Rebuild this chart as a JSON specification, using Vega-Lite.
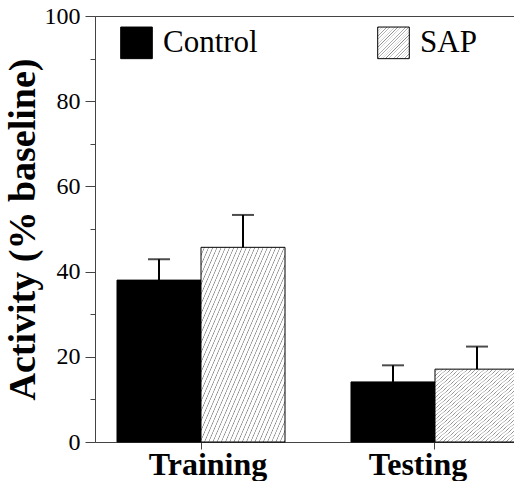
{
  "$schema": "https://vega.github.io/schema/vega-lite/v6.json",
  "width": 420,
  "height": 426,
  "autosize": {"type": "none"},
  "padding": {"left": 95, "top": 16, "right": -1, "bottom": 39},
  "background": "white",
  "config": {
    "view": {"stroke": "#444", "strokeWidth": 1},
    "font": "Liberation Serif"
  },
  "data": {
    "values": [
      {"phase": "Training", "group": "Control", "mean": 38.0, "upper": 42.9},
      {"phase": "Training", "group": "SAP", "mean": 45.7, "upper": 53.3},
      {"phase": "Testing", "group": "Control", "mean": 14.1, "upper": 18.0},
      {"phase": "Testing", "group": "SAP", "mean": 17.1, "upper": 22.4}
    ]
  },
  "resolve": {"axis": {"y": "independent"}},
  "layer": [
    {
      "mark": {"type": "bar", "stroke": "black", "strokeWidth": 1},
      "encoding": {
        "x": {
          "field": "phase", "type": "nominal", "sort": ["Training", "Testing"],
          "scale": {"range": [22, 424], "paddingInner": 0.282, "paddingOuter": 0},
          "axis": {
            "title": null, "domain": false, "labelAngle": 0,
            "tickSize": 7, "tickColor": "#444", "tickWidth": 1,
            "labelFont": "Liberation Serif", "labelFontSize": 32, "labelFontWeight": "bold",
            "labelColor": "black", "labelPadding": 0,
            "labelOffset": {"condition": {"test": "datum.value === 'Testing'", "value": -17}, "value": 7}
          }
        },
        "xOffset": {"field": "group", "type": "nominal", "sort": ["Control", "SAP"], "scale": {"paddingInner": 0, "paddingOuter": 0}},
        "y": {
          "field": "mean", "type": "quantitative",
          "scale": {"domain": [0, 100], "nice": false},
          "axis": {
            "title": "Activity (% baseline)", "values": [0, 20, 40, 60, 80, 100],
            "grid": false, "domainColor": "#444", "tickColor": "#444", "tickSize": 10,
            "labelFont": "Liberation Serif", "labelFontSize": 24, "labelColor": "black", "labelPadding": 5,
            "titleFont": "Liberation Serif", "titleFontSize": 38, "titleFontWeight": "bold", "titleColor": "black", "titlePadding": 2
          }
        },
        "fill": {
          "field": "group", "type": "nominal",
          "scale": {
            "domain": ["Control", "SAP"],
            "range": [
              "#000000",
              {"expr": "{gradient: 'linear', x1: 0, y1: 0, x2: 1, y2: 1, stops: [{offset: 0, color: '#fff'}, {offset: 0.016, color: '#fff'}, {offset: 0.021, color: '#888'}, {offset: 0.025, color: '#fff'}, {offset: 0.041, color: '#fff'}, {offset: 0.046, color: '#888'}, {offset: 0.05, color: '#fff'}, {offset: 0.066, color: '#fff'}, {offset: 0.071, color: '#888'}, {offset: 0.075, color: '#fff'}, {offset: 0.091, color: '#fff'}, {offset: 0.096, color: '#888'}, {offset: 0.1, color: '#fff'}, {offset: 0.116, color: '#fff'}, {offset: 0.121, color: '#888'}, {offset: 0.125, color: '#fff'}, {offset: 0.141, color: '#fff'}, {offset: 0.146, color: '#888'}, {offset: 0.15, color: '#fff'}, {offset: 0.166, color: '#fff'}, {offset: 0.171, color: '#888'}, {offset: 0.175, color: '#fff'}, {offset: 0.191, color: '#fff'}, {offset: 0.196, color: '#888'}, {offset: 0.2, color: '#fff'}, {offset: 0.216, color: '#fff'}, {offset: 0.221, color: '#888'}, {offset: 0.225, color: '#fff'}, {offset: 0.241, color: '#fff'}, {offset: 0.246, color: '#888'}, {offset: 0.25, color: '#fff'}, {offset: 0.266, color: '#fff'}, {offset: 0.271, color: '#888'}, {offset: 0.275, color: '#fff'}, {offset: 0.291, color: '#fff'}, {offset: 0.296, color: '#888'}, {offset: 0.3, color: '#fff'}, {offset: 0.316, color: '#fff'}, {offset: 0.321, color: '#888'}, {offset: 0.325, color: '#fff'}, {offset: 0.341, color: '#fff'}, {offset: 0.346, color: '#888'}, {offset: 0.35, color: '#fff'}, {offset: 0.366, color: '#fff'}, {offset: 0.371, color: '#888'}, {offset: 0.375, color: '#fff'}, {offset: 0.391, color: '#fff'}, {offset: 0.396, color: '#888'}, {offset: 0.4, color: '#fff'}, {offset: 0.416, color: '#fff'}, {offset: 0.421, color: '#888'}, {offset: 0.425, color: '#fff'}, {offset: 0.441, color: '#fff'}, {offset: 0.446, color: '#888'}, {offset: 0.45, color: '#fff'}, {offset: 0.466, color: '#fff'}, {offset: 0.471, color: '#888'}, {offset: 0.475, color: '#fff'}, {offset: 0.491, color: '#fff'}, {offset: 0.496, color: '#888'}, {offset: 0.5, color: '#fff'}, {offset: 0.516, color: '#fff'}, {offset: 0.521, color: '#888'}, {offset: 0.525, color: '#fff'}, {offset: 0.541, color: '#fff'}, {offset: 0.546, color: '#888'}, {offset: 0.55, color: '#fff'}, {offset: 0.566, color: '#fff'}, {offset: 0.571, color: '#888'}, {offset: 0.575, color: '#fff'}, {offset: 0.591, color: '#fff'}, {offset: 0.596, color: '#888'}, {offset: 0.6, color: '#fff'}, {offset: 0.616, color: '#fff'}, {offset: 0.621, color: '#888'}, {offset: 0.625, color: '#fff'}, {offset: 0.641, color: '#fff'}, {offset: 0.646, color: '#888'}, {offset: 0.65, color: '#fff'}, {offset: 0.666, color: '#fff'}, {offset: 0.671, color: '#888'}, {offset: 0.675, color: '#fff'}, {offset: 0.691, color: '#fff'}, {offset: 0.696, color: '#888'}, {offset: 0.7, color: '#fff'}, {offset: 0.716, color: '#fff'}, {offset: 0.721, color: '#888'}, {offset: 0.725, color: '#fff'}, {offset: 0.741, color: '#fff'}, {offset: 0.746, color: '#888'}, {offset: 0.75, color: '#fff'}, {offset: 0.766, color: '#fff'}, {offset: 0.771, color: '#888'}, {offset: 0.775, color: '#fff'}, {offset: 0.791, color: '#fff'}, {offset: 0.796, color: '#888'}, {offset: 0.8, color: '#fff'}, {offset: 0.816, color: '#fff'}, {offset: 0.821, color: '#888'}, {offset: 0.825, color: '#fff'}, {offset: 0.841, color: '#fff'}, {offset: 0.846, color: '#888'}, {offset: 0.85, color: '#fff'}, {offset: 0.866, color: '#fff'}, {offset: 0.871, color: '#888'}, {offset: 0.875, color: '#fff'}, {offset: 0.891, color: '#fff'}, {offset: 0.896, color: '#888'}, {offset: 0.9, color: '#fff'}, {offset: 0.916, color: '#fff'}, {offset: 0.921, color: '#888'}, {offset: 0.925, color: '#fff'}, {offset: 0.941, color: '#fff'}, {offset: 0.946, color: '#888'}, {offset: 0.95, color: '#fff'}, {offset: 0.966, color: '#fff'}, {offset: 0.971, color: '#888'}, {offset: 0.975, color: '#fff'}, {offset: 0.991, color: '#fff'}, {offset: 0.996, color: '#888'}, {offset: 1, color: '#fff'}]}"}
            ]
          },
          "legend": {
            "title": null, "orient": "none", "legendX": 25, "legendY": 10, "direction": "horizontal",
            "columns": 2, "columnPadding": 117, "padding": 0,
            "symbolType": "square", "symbolSize": 1000, "symbolStrokeColor": "black", "symbolStrokeWidth": 1,
            "labelFont": "Liberation Serif", "labelFontSize": 31, "labelColor": "black", "labelOffset": 10, "labelLimit": 300
          }
        }
      }
    },
    {
      "mark": {"type": "rule", "color": "black", "strokeWidth": 2},
      "encoding": {
        "x": {"field": "phase", "type": "nominal", "sort": ["Training", "Testing"]},
        "xOffset": {"field": "group", "type": "nominal", "sort": ["Control", "SAP"]},
        "y": {
          "field": "mean", "type": "quantitative",
          "axis": {
            "orient": "left", "values": [10, 30, 50, 70, 90], "labels": false, "domain": false,
            "grid": false, "title": null, "tickSize": 5, "tickColor": "#444"
          }
        },
        "y2": {"field": "upper"}
      }
    },
    {
      "mark": {"type": "tick", "color": "black", "thickness": 2, "size": 22, "orient": "horizontal"},
      "encoding": {
        "x": {"field": "phase", "type": "nominal", "sort": ["Training", "Testing"]},
        "xOffset": {"field": "group", "type": "nominal", "sort": ["Control", "SAP"]},
        "y": {"field": "upper", "type": "quantitative", "axis": null}
      }
    }
  ]
}
